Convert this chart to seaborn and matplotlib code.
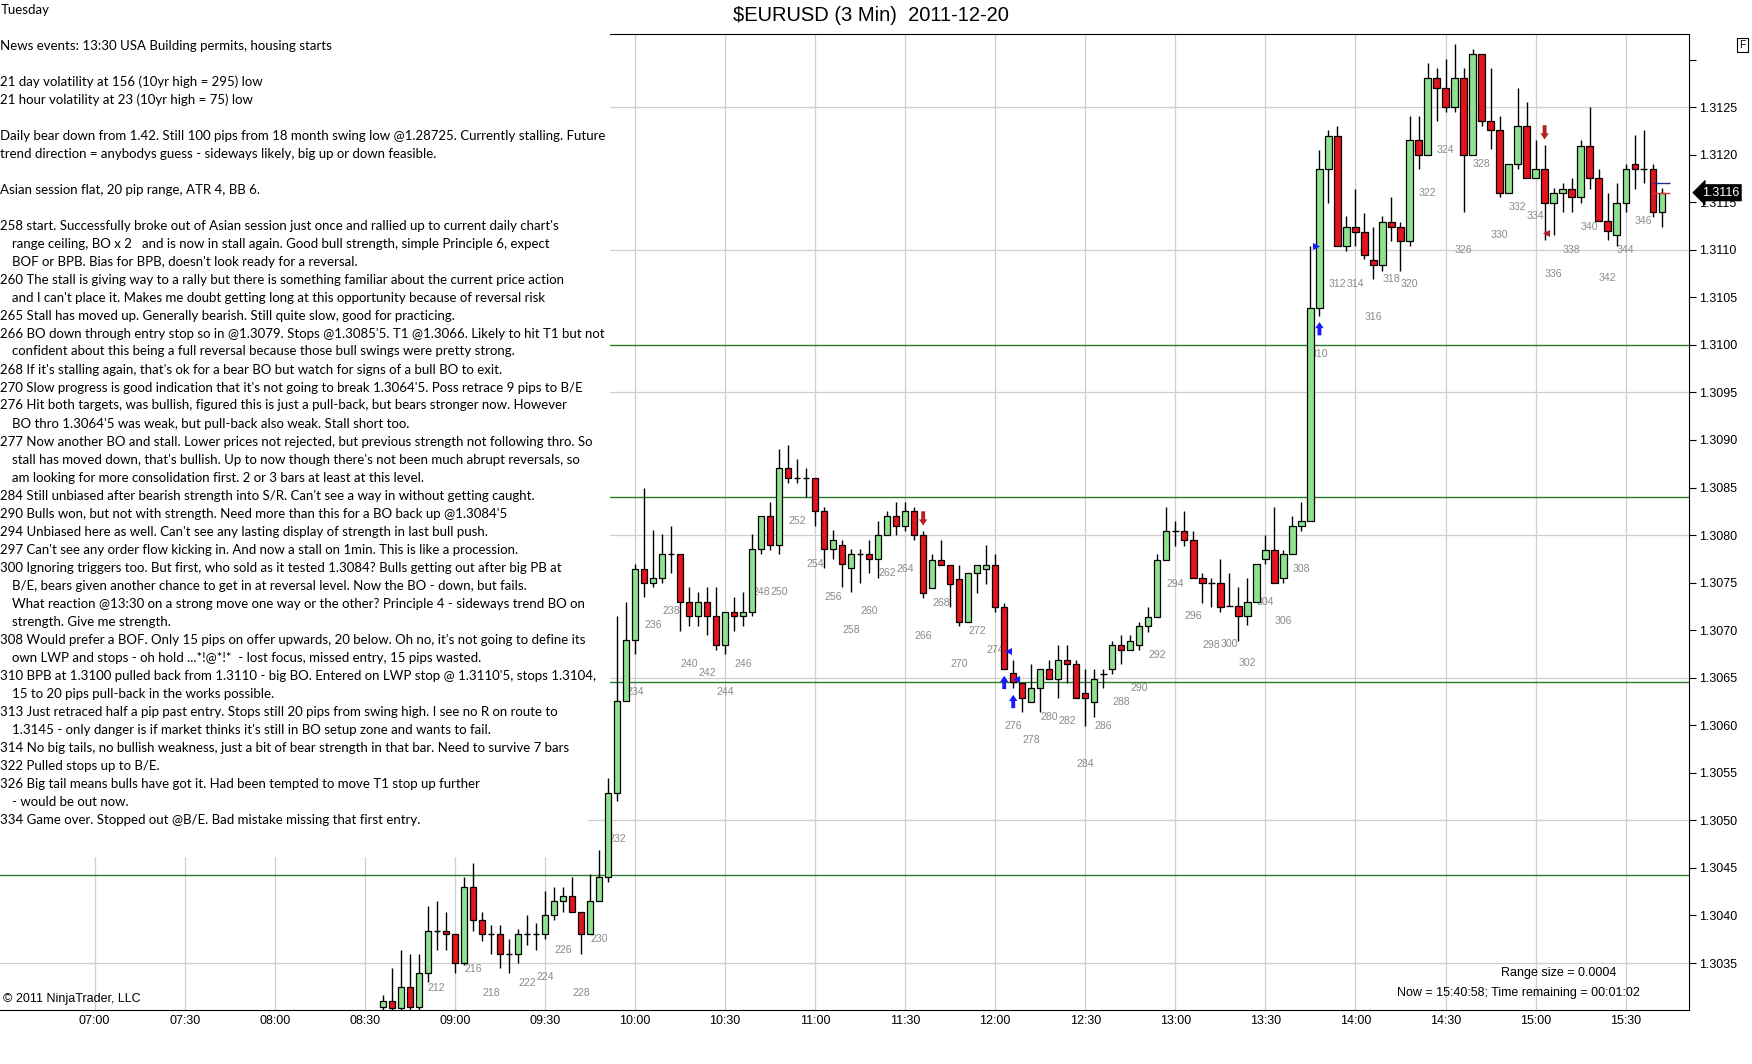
import numpy as np
import pandas as pd
import matplotlib
matplotlib.use("Agg")
import matplotlib.pyplot as plt
import matplotlib.transforms as mtransforms
from matplotlib.patches import Rectangle
import seaborn as sns

# ---------------- data ----------------
bar_numbers = list(range(206, 349))
opens = [1.30304, 1.30310, 1.30303, 1.30325, 1.30304, 1.30339, 1.30384, 1.30384, 1.30381, 1.30350,
         1.30430, 1.30395, 1.30381, 1.30381, 1.30359, 1.30359, 1.30381, 1.30381, 1.30381, 1.30401,
         1.30415, 1.30420, 1.30404, 1.30381, 1.30415, 1.30440, 1.30529, 1.30625, 1.30690, 1.30764,
         1.30750, 1.30755, 1.30780, 1.30780, 1.30730, 1.30715, 1.30730, 1.30715, 1.30684, 1.30719,
         1.30715, 1.30719, 1.30785, 1.30820, 1.30790, 1.30870, 1.30860, 1.30860, 1.30860, 1.30825,
         1.30785, 1.30790, 1.30765, 1.30780, 1.30780, 1.30775, 1.30800, 1.30820, 1.30810, 1.30825,
         1.30800, 1.30744, 1.30774, 1.30769, 1.30754, 1.30709, 1.30760, 1.30764, 1.30769, 1.30724,
         1.30655, 1.30644, 1.30624, 1.30639, 1.30659, 1.30649, 1.30669, 1.30664, 1.30634, 1.30624,
         1.30654, 1.30659, 1.30684, 1.30679, 1.30684, 1.30704, 1.30714, 1.30774, 1.30804, 1.30804,
         1.30795, 1.30755, 1.30750, 1.30750, 1.30725, 1.30725, 1.30715, 1.30730, 1.30775, 1.30784,
         1.30755, 1.30780, 1.30810, 1.30815, 1.31039, 1.31185, 1.31220, 1.31104, 1.31124, 1.31119,
         1.31089, 1.31084, 1.31129, 1.31124, 1.31109, 1.31215, 1.31200, 1.31281, 1.31270, 1.31250,
         1.31281, 1.31200, 1.31306, 1.31235, 1.31226, 1.31160, 1.31190, 1.31230, 1.31175, 1.31185,
         1.31149, 1.31160, 1.31164, 1.31155, 1.31209, 1.31175, 1.31130, 1.31115, 1.31149, 1.31190,
         1.31185, 1.31185, 1.31140]
highs = [1.30316, 1.30345, 1.30364, 1.30359, 1.30359, 1.30410, 1.30415, 1.30404, 1.30381, 1.30440,
         1.30455, 1.30404, 1.30390, 1.30390, 1.30375, 1.30386, 1.30401, 1.30392, 1.30426, 1.30430,
         1.30430, 1.30440, 1.30404, 1.30444, 1.30469, 1.30545, 1.30715, 1.30730, 1.30770, 1.30850,
         1.30805, 1.30801, 1.30810, 1.30780, 1.30745, 1.30740, 1.30745, 1.30745, 1.30719, 1.30735,
         1.30740, 1.30801, 1.30820, 1.30835, 1.30890, 1.30895, 1.30880, 1.30870, 1.30860, 1.30830,
         1.30805, 1.30795, 1.30785, 1.30785, 1.30795, 1.30815, 1.30825, 1.30835, 1.30835, 1.30830,
         1.30804, 1.30780, 1.30795, 1.30769, 1.30769, 1.30760, 1.30769, 1.30790, 1.30780, 1.30729,
         1.30669, 1.30644, 1.30664, 1.30659, 1.30669, 1.30684, 1.30684, 1.30669, 1.30659, 1.30659,
         1.30659, 1.30689, 1.30695, 1.30695, 1.30709, 1.30724, 1.30780, 1.30829, 1.30815, 1.30825,
         1.30804, 1.30760, 1.30755, 1.30775, 1.30760, 1.30745, 1.30755, 1.30770, 1.30800, 1.30829,
         1.30784, 1.30820, 1.30835, 1.31104, 1.31205, 1.31226, 1.31230, 1.31135, 1.31164, 1.31139,
         1.31124, 1.31135, 1.31155, 1.31129, 1.31241, 1.31241, 1.31296, 1.31291, 1.31301, 1.31316,
         1.31291, 1.31311, 1.31306, 1.31291, 1.31241, 1.31190, 1.31270, 1.31255, 1.31215, 1.31210,
         1.31165, 1.31170, 1.31175, 1.31215, 1.31250, 1.31185, 1.31160, 1.31170, 1.31190, 1.31221,
         1.31226, 1.31190, 1.31165]
lows = [1.30295, 1.30295, 1.30295, 1.30295, 1.30298, 1.30330, 1.30364, 1.30364, 1.30339, 1.30348,
        1.30384, 1.30373, 1.30359, 1.30345, 1.30339, 1.30350, 1.30369, 1.30364, 1.30375, 1.30395,
        1.30404, 1.30404, 1.30359, 1.30381, 1.30415, 1.30435, 1.30520, 1.30625, 1.30675, 1.30735,
        1.30745, 1.30750, 1.30760, 1.30699, 1.30704, 1.30704, 1.30695, 1.30679, 1.30675, 1.30699,
        1.30704, 1.30715, 1.30780, 1.30784, 1.30780, 1.30855, 1.30855, 1.30840, 1.30810, 1.30765,
        1.30775, 1.30745, 1.30740, 1.30750, 1.30760, 1.30755, 1.30800, 1.30800, 1.30804, 1.30795,
        1.30734, 1.30744, 1.30769, 1.30724, 1.30704, 1.30709, 1.30739, 1.30749, 1.30719, 1.30659,
        1.30639, 1.30614, 1.30624, 1.30614, 1.30649, 1.30629, 1.30644, 1.30629, 1.30599, 1.30609,
        1.30639, 1.30654, 1.30664, 1.30679, 1.30679, 1.30698, 1.30714, 1.30774, 1.30789, 1.30789,
        1.30755, 1.30729, 1.30724, 1.30719, 1.30725, 1.30689, 1.30705, 1.30730, 1.30770, 1.30750,
        1.30750, 1.30780, 1.30804, 1.30815, 1.31030, 1.31149, 1.31104, 1.31099, 1.31104, 1.31090,
        1.31069, 1.31078, 1.31109, 1.31078, 1.31104, 1.31185, 1.31200, 1.31235, 1.31245, 1.31245,
        1.31140, 1.31200, 1.31230, 1.31206, 1.31155, 1.31160, 1.31185, 1.31175, 1.31175, 1.31110,
        1.31115, 1.31140, 1.31140, 1.31149, 1.31164, 1.31130, 1.31110, 1.31104, 1.31140, 1.31164,
        1.31170, 1.31134, 1.31124]
closes = [1.30310, 1.30303, 1.30325, 1.30304, 1.30339, 1.30384, 1.30384, 1.30381, 1.30350, 1.30430,
          1.30395, 1.30381, 1.30381, 1.30359, 1.30359, 1.30381, 1.30381, 1.30381, 1.30401, 1.30415,
          1.30420, 1.30404, 1.30381, 1.30415, 1.30440, 1.30529, 1.30625, 1.30690, 1.30764, 1.30750,
          1.30755, 1.30780, 1.30780, 1.30730, 1.30715, 1.30730, 1.30715, 1.30684, 1.30719, 1.30715,
          1.30719, 1.30785, 1.30820, 1.30790, 1.30870, 1.30860, 1.30860, 1.30860, 1.30825, 1.30785,
          1.30795, 1.30770, 1.30780, 1.30780, 1.30775, 1.30800, 1.30820, 1.30810, 1.30825, 1.30800,
          1.30739, 1.30774, 1.30769, 1.30749, 1.30709, 1.30760, 1.30769, 1.30769, 1.30724, 1.30659,
          1.30645, 1.30629, 1.30639, 1.30659, 1.30649, 1.30669, 1.30664, 1.30629, 1.30629, 1.30649,
          1.30654, 1.30684, 1.30679, 1.30689, 1.30704, 1.30714, 1.30774, 1.30804, 1.30804, 1.30795,
          1.30755, 1.30750, 1.30750, 1.30724, 1.30725, 1.30715, 1.30730, 1.30770, 1.30784, 1.30750,
          1.30780, 1.30810, 1.30815, 1.31039, 1.31185, 1.31220, 1.31104, 1.31124, 1.31119, 1.31094,
          1.31084, 1.31129, 1.31124, 1.31109, 1.31215, 1.31200, 1.31281, 1.31270, 1.31250, 1.31281,
          1.31200, 1.31306, 1.31235, 1.31226, 1.31160, 1.31190, 1.31230, 1.31175, 1.31185, 1.31149,
          1.31160, 1.31164, 1.31155, 1.31209, 1.31175, 1.31130, 1.31120, 1.31149, 1.31185, 1.31185,
          1.31185, 1.31140, 1.31160]

label_bars = [212, 216, 218] + list(range(222, 347, 2))

level_lines = [1.30840, 1.31000, 1.30646, 1.30443]
grid_prices = [1.3035, 1.3050, 1.3065, 1.3080, 1.3095, 1.3110, 1.3125]
price_ticks = [1.3035, 1.3040, 1.3045, 1.3050, 1.3055, 1.3060, 1.3065, 1.3070, 1.3075,
               1.3080, 1.3085, 1.3090, 1.3095, 1.3100, 1.3105, 1.3110, 1.3115, 1.3120,
               1.3125, 1.3130]
time_ticks = ["07:00", "07:30", "08:00", "08:30", "09:00", "09:30", "10:00", "10:30", "11:00",
              "11:30", "12:00", "12:30", "13:00", "13:30", "14:00", "14:30", "15:00", "15:30"]
last_price = 1.3116

# execution arrows: (bar, from price, to price, kind)
arrows = [(266, 1.30825, 1.30810, "sell"), (335, 1.31231, 1.31216, "sell"),
          (275, 1.30638, 1.30652, "buy"), (276, 1.30618, 1.30632, "buy"),
          (310, 1.31010, 1.31024, "buy")]
# execution triangles: (bar position, price, marker, kind)
triangles = [(275.37, 1.30678, "<", "buy"), (276.33, 1.30649, "<", "buy"),
             (309.67, 1.31104, ">", "buy"), (335.2, 1.31118, "<", "sell")]
# short order lines on the last bars: (price, bar from, bar to, kind)
order_lines = [(1.31170, 346.9, 348.9, "buy"), (1.31160, 346.9, 348.9, "sell")]

notes = [
    "Tuesday",
    "",
    "News events: 13:30 USA Building permits, housing starts",
    "",
    "21 day volatility at 156 (10yr high = 295) low",
    "21 hour volatility at 23 (10yr high = 75) low",
    "",
    "Daily bear down from 1.42. Still 100 pips from 18 month swing low @1.28725. Currently stalling. Future",
    "trend direction = anybodys guess - sideways likely, big up or down feasible.",
    "",
    "Asian session flat, 20 pip range, ATR 4, BB 6.",
    "",
    "258 start. Successfully broke out of Asian session just once and rallied up to current daily chart's",
    "   range ceiling, BO x 2   and is now in stall again. Good bull strength, simple Principle 6, expect",
    "   BOF or BPB. Bias for BPB, doesn't look ready for a reversal.",
    "260 The stall is giving way to a rally but there is something familiar about the current price action",
    "   and I can't place it. Makes me doubt getting long at this opportunity because of reversal risk",
    "265 Stall has moved up. Generally bearish. Still quite slow, good for practicing.",
    "266 BO down through entry stop so in @1.3079. Stops @1.3085'5. T1 @1.3066. Likely to hit T1 but not",
    "   confident about this being a full reversal because those bull swings were pretty strong.",
    "268 If it's stalling again, that's ok for a bear BO but watch for signs of a bull BO to exit.",
    "270 Slow progress is good indication that it's not going to break 1.3064'5. Poss retrace 9 pips to B/E",
    "276 Hit both targets, was bullish, figured this is just a pull-back, but bears stronger now. However",
    "   BO thro 1.3064'5 was weak, but pull-back also weak. Stall short too.",
    "277 Now another BO and stall. Lower prices not rejected, but previous strength not following thro. So",
    "   stall has moved down, that's bullish. Up to now though there's not been much abrupt reversals, so",
    "   am looking for more consolidation first. 2 or 3 bars at least at this level.",
    "284 Still unbiased after bearish strength into S/R. Can't see a way in without getting caught.",
    "290 Bulls won, but not with strength. Need more than this for a BO back up @1.3084'5",
    "294 Unbiased here as well. Can't see any lasting display of strength in last bull push.",
    "297 Can't see any order flow kicking in. And now a stall on 1min. This is like a procession.",
    "300 Ignoring triggers too. But first, who sold as it tested 1.3084? Bulls getting out after big PB at",
    "   B/E, bears given another chance to get in at reversal level. Now the BO - down, but fails.",
    "   What reaction @13:30 on a strong move one way or the other? Principle 4 - sideways trend BO on",
    "   strength. Give me strength.",
    "308 Would prefer a BOF. Only 15 pips on offer upwards, 20 below. Oh no, it's not going to define its",
    "   own LWP and stops - oh hold ...*!@*!*  - lost focus, missed entry, 15 pips wasted.",
    "310 BPB at 1.3100 pulled back from 1.3110 - big BO. Entered on LWP stop @ 1.3110'5, stops 1.3104,",
    "   15 to 20 pips pull-back in the works possible.",
    "313 Just retraced half a pip past entry. Stops still 20 pips from swing high. I see no R on route to",
    "   1.3145 - only danger is if market thinks it's still in BO setup zone and wants to fail.",
    "314 No big tails, no bullish weakness, just a bit of bear strength in that bar. Need to survive 7 bars",
    "322 Pulled stops up to B/E.",
    "326 Big tail means bulls have got it. Had been tempted to move T1 stop up further",
    "   - would be out now.",
    "334 Game over. Stopped out @B/E. Bad mistake missing that first entry.",
]

# ---------------- style / layout ----------------
sns.set_theme(style="white")
plt.rcParams["font.family"] = ["Liberation Sans", "DejaVu Sans"]
plt.rcParams["axes.linewidth"] = 0.8

W, H = 1752, 1064
fig = plt.figure(figsize=(W / 100, H / 100), dpi=100)
fig.patch.set_facecolor("white")


def fx(px):
    return px / W


def fy(py):
    return 1 - py / H


AX_L, AX_R, AX_T, AX_B = 0, 1689, 33.5, 1010
ax = fig.add_axes([fx(AX_L), fy(AX_B), fx(AX_R - AX_L), (AX_B - AX_T) / H])
ax.set_facecolor("white")


def bar_time(n):
    # minutes after midnight of the bar close; bar 234 closes at 10:00, 3-minute bars
    return 600 + (n - 234) * 3


df = pd.DataFrame({"bar": bar_numbers, "open": opens, "high": highs, "low": lows, "close": closes})
df["t"] = df["bar"].map(bar_time)
df["bottom"] = df[["open", "close"]].min(axis=1)
df["height"] = (df["close"] - df["open"]).abs()
df["up"] = df["close"] > df["open"]
df["doji"] = df["close"] == df["open"]

GREEN = "#8fe28f"
RED = "#e3141b"
BLUE = "#1a1aff"
DRED = "#b22222"
GRID = "#cfcfcf"
LEVEL = "#2b7a2b"

tick_minutes = [int(s[:2]) * 60 + int(s[3:]) for s in time_ticks]

# grid
ax.vlines(tick_minutes, 1.3, 1.32, color=GRID, lw=0.9, zorder=1)
ax.hlines(grid_prices, 300, 1000, color=GRID, lw=0.9, zorder=1)
for lv in level_lines:
    ax.axhline(lv, color=LEVEL, lw=1.0, zorder=1.2)

# bar labels (behind candles)
lab = df[df["bar"].isin(label_bars)]
for _, r in lab.iterrows():
    ax.text(r["t"], r["low"] - 0.0004, str(int(r["bar"])), ha="center", va="center",
            fontsize=7.6, color="#8a8a8a", zorder=2)

# candles
ax.vlines(df["t"], df["low"], df["high"], color="black", lw=1.0, zorder=3)
body = df[~df["doji"]]
ax.bar(body["t"], body["height"], bottom=body["bottom"], width=2.1,
       color=np.where(body["up"], GREEN, RED), edgecolor="black", linewidth=0.9, zorder=4)
dj = df[df["doji"]]
ax.hlines(dj["open"], dj["t"] - 1.1, dj["t"] + 1.1, color="black", lw=1.0, zorder=4)

# execution markers
for n, y0, y1, kind in arrows:
    c = BLUE if kind == "buy" else DRED
    ax.annotate("", xy=(bar_time(n), y1), xytext=(bar_time(n), y0),
                arrowprops=dict(arrowstyle="simple,head_length=0.55,head_width=0.75,tail_width=0.35",
                                fc=c, ec=c, lw=0, shrinkA=0, shrinkB=0, mutation_scale=8),
                zorder=6)
for pos, y, mk, kind in triangles:
    c = BLUE if kind == "buy" else DRED
    sns.scatterplot(x=[bar_time(pos)], y=[y], marker=mk, color=c, s=26, linewidth=0, ax=ax,
                    zorder=6, legend=False)
for y, b0, b1, kind in order_lines:
    c = "#1f2a8a" if kind == "buy" else "#e53935"
    ax.hlines(y, bar_time(b0), bar_time(b1), color=c, lw=1.0, zorder=5)

# limits
ax.set_xlim(388.5, 951.1)
ax.set_ylim(1.303006, 1.313274)

# axes and ticks
ax.set_xticks(tick_minutes)
ax.set_xticklabels(time_ticks)
ax.yaxis.tick_right()
ax.set_yticks(price_ticks)
ax.set_yticklabels([f"{p:.4f}" if p < 1.31275 else "" for p in price_ticks])
ax.tick_params(axis="x", length=0, pad=3.5, labelsize=9, colors="black")
ax.tick_params(axis="y", which="major", length=5, width=0.8, direction="out", pad=2.5,
               labelsize=9, colors="black", right=True, left=False)
ax.set_xlabel("")
ax.set_ylabel("")
ax.grid(False)
for side in ["top", "bottom", "right"]:
    ax.spines[side].set_visible(True)
    ax.spines[side].set_color("black")
    ax.spines[side].set_linewidth(0.8)
ax.spines["left"].set_visible(False)

# last price marker
trans = mtransforms.blended_transform_factory(ax.transAxes, ax.transData)
ax.text(1.0075, last_price, f"{last_price:.4f}", transform=trans, ha="left", va="center",
        fontsize=9, color="white", zorder=20, clip_on=False,
        bbox=dict(boxstyle="larrow,pad=0.18", fc="black", ec="black", lw=0.5))

# chart texts inside the panel
ax.text(0.0015, 1.30312, "\u00a9 2011 NinjaTrader, LLC", transform=trans, ha="left", va="center",
        fontsize=9, color="black", zorder=7)
fig.text(fx(1616), fy(973), "Range size = 0.0004", ha="right", va="center", fontsize=9,
         color="black", zorder=7)
fig.text(fx(1640), fy(993), "Now = 15:40:58; Time remaining = 00:01:02", ha="right", va="center",
         fontsize=9, color="black", zorder=7)

# title
fig.text(fx(871), fy(15.5), "$EURUSD (3 Min)  2011-12-20", ha="center", va="center",
         fontsize=14.5, color="black", zorder=7)

# "F" box
fig.text(fx(1742.5), fy(45), "F", ha="center", va="center", fontsize=7.5, color="black",
         bbox=dict(boxstyle="square,pad=0.18", fc="white", ec="black", lw=0.8), zorder=7)

# white note panel covering the chart
fig.add_artist(Rectangle((0, fy(700)), fx(610), 700 / H, transform=fig.transFigure,
                         facecolor="white", edgecolor="none", zorder=5))
fig.add_artist(Rectangle((0, fy(857)), fx(588), (857 - 700) / H, transform=fig.transFigure,
                         facecolor="white", edgecolor="none", zorder=5))

# notes text, sized so the reference line widths are matched (widest lines ~628 / ~594 px)
note_font = ["Lato", "DejaVu Sans"]
renderer = fig.canvas.get_renderer()
probe_a = fig.text(0, 0, notes[7], fontsize=10, family=note_font)
probe_b = fig.text(0, 0, notes[37], fontsize=10, family=note_font)
fig.canvas.draw()
wa = probe_a.get_window_extent(renderer=renderer).width
wb = probe_b.get_window_extent(renderer=renderer).width
probe_a.remove()
probe_b.remove()
note_fs = 10 * min(628.0 / wa, 596.0 / wb)

for i, line in enumerate(notes):
    if not line:
        continue
    indent = line.startswith("   ")
    xpx = 12 if indent else 0.5
    fig.text(fx(xpx), fy(9.5 + 18.0 * i), line.strip(), ha="left", va="center",
             fontsize=note_fs, family=note_font, color="black", zorder=8)

fig.savefig("out.png", dpi=100, facecolor="white")
